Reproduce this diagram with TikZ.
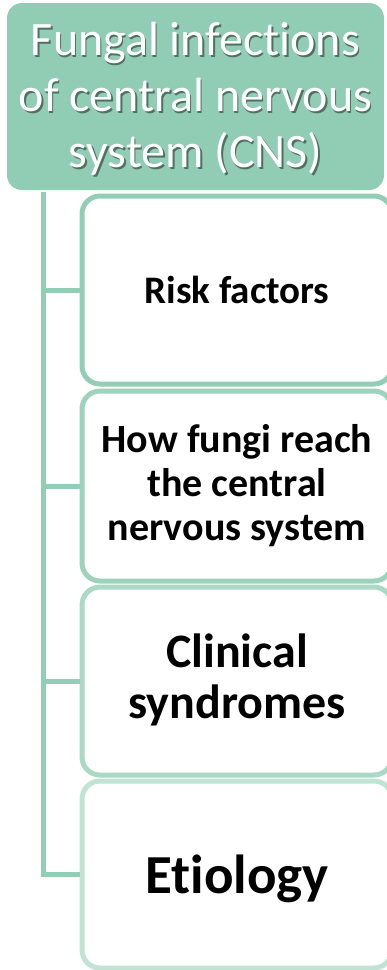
\documentclass[tikz,border=0pt]{standalone}
\usepackage{fontspec}
\setmainfont{Carlito}[Ligatures=NoCommon]
\definecolor{hdr}{RGB}{145,204,180}
\definecolor{bdA}{RGB}{147,205,181}
\definecolor{bdB}{RGB}{157,210,188}
\definecolor{bdC}{RGB}{170,217,197}
\definecolor{bdD}{RGB}{192,227,212}
\newcommand\ttltext{\begin{tabular}{@{}c@{}}Fungal infections\\of central nervous\\system (CNS)\end{tabular}}
\newcommand\dropby[2]{\raisebox{-#1}[\height][\depth]{#2}}
\tikzset{
  rootbox/.style={rectangle, rounded corners=15pt, fill=hdr, draw=none,
    minimum width=377pt, minimum height=187pt, inner sep=0pt, text=white,
    font=\fontsize{48}{56}\selectfont},
  childbox/.style={rectangle, rounded corners=18pt, fill=white, line width=5pt,
    minimum width=310pt, minimum height=188pt, inner sep=0pt, align=center,
    text=black},
  conn/.style={draw=bdA, line width=5pt}
}
\begin{document}
\begin{tikzpicture}[x=1pt,y=-1pt]
\useasboundingbox (0,0) rectangle (387,970);
\clip (0,0) rectangle (387,970);
\node[rootbox] (root) at (195.5,96.5)
  {\dropby{5pt}{\makebox[0pt][l]{\hspace{1.5pt}\raisebox{-1.8pt}{\color{hdr!55!black}\ttltext}}\ttltext}};
\node[childbox, draw=bdA, minimum height=188pt,
  font=\fontsize{39}{44}\selectfont\bfseries] (b1) at (237,290) {Risk factors};
\node[childbox, draw=bdB, minimum height=190pt,
  font=\fontsize{40}{44}\selectfont\bfseries] (b2) at (237,486)
  {\dropby{2pt}{\begin{tabular}{@{}c@{}}How fungi reach\\the central\\nervous system\end{tabular}}};
\node[childbox, draw=bdC, minimum height=188pt,
  font=\fontsize{48}{51}\selectfont\bfseries] (b3) at (237,681)
  {\dropby{2pt}{\begin{tabular}{@{}c@{}}Clinical\\syndromes\end{tabular}}};
\node[childbox, draw=bdD, minimum height=187pt,
  font=\fontsize{55}{60}\selectfont\bfseries] (b4) at (237,874.5)
  {\dropby{4pt}{Etiology}};
\coordinate (trunk) at (43,192);
\draw[conn] (trunk) |- (b1.west);
\draw[conn] (trunk) |- (b2.west);
\draw[conn] (trunk) |- (b3.west);
\draw[conn] (trunk) |- (b4.west);
\end{tikzpicture}
\end{document}
